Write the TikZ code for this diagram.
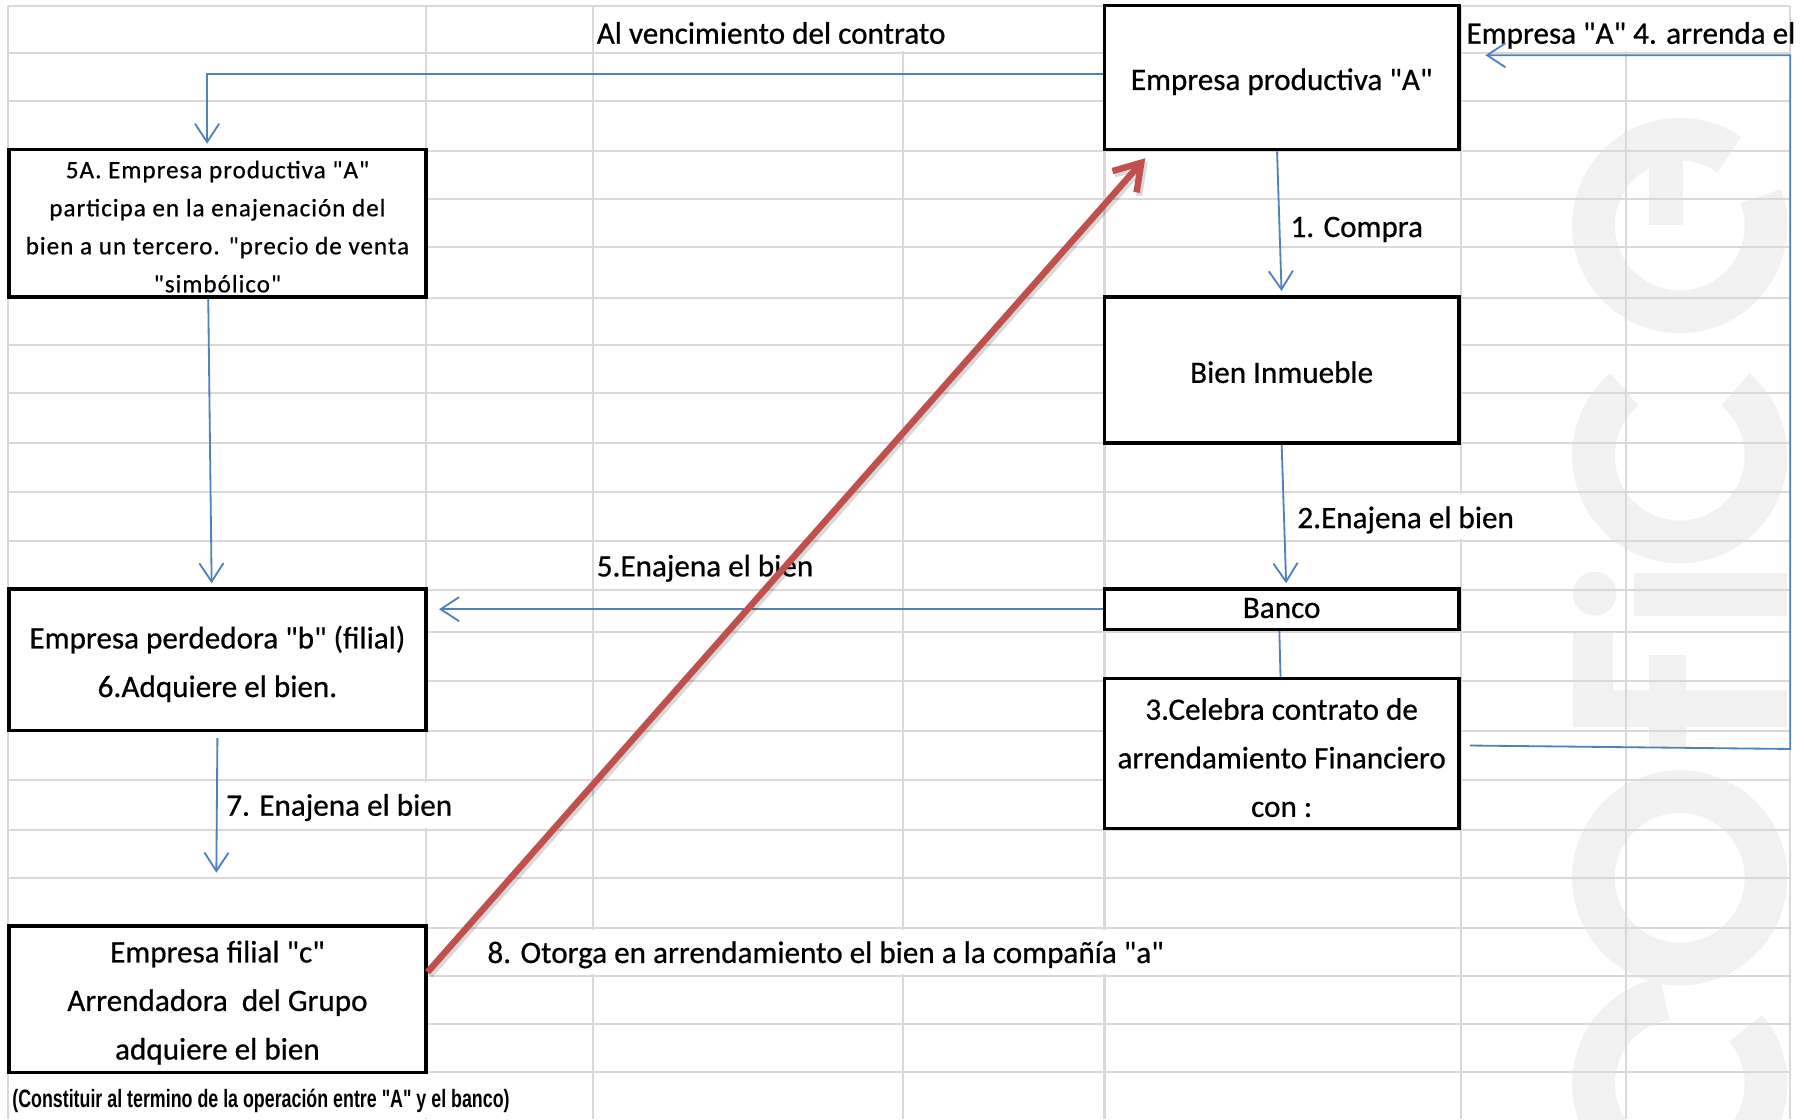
\documentclass[tikz,border=0pt]{standalone}
\usepackage{graphicx}
\usepackage{fontspec}
\newfontfamily\calfont{Carlito}[FakeBold=0.6]
\newfontfamily\spacedfont{Carlito}[LetterSpace=4,FakeBold=0.6]
\newfontfamily\notefont{Liberation Sans}
\usetikzlibrary{arrows.meta,calc}
\definecolor{gridc}{HTML}{D9D9D9}
\definecolor{conc}{HTML}{4F81BD}
\definecolor{redc}{HTML}{C0504D}
\definecolor{wmc}{HTML}{F1F1F1}
\begin{document}
\begin{tikzpicture}[x=0.01cm,y=-0.01cm,
  gridline/.style={draw=gridc, line width=0.5pt},
  box/.style={draw=black, line width=0.85pt, fill=white, rectangle, inner sep=0pt},
  rbox/.style={box, minimum width=3.08cm},
  lbox/.style={box, minimum width=3.62cm},
  boxtext/.style={inner sep=0pt, align=center, font=\calfont\fontsize{7.7}{12}\selectfont},
  con/.style={draw=conc, line width=0.45pt, -{Straight Barb[length=1.6mm,width=2.1mm]}, shorten >=1pt},
  conline/.style={draw=conc, line width=0.45pt},
  redarr/.style={draw=redc, line width=1.6pt, -{Straight Barb[length=2.2mm,width=2.8mm]}},
  lbl/.style={anchor=base west, inner sep=0pt, font=\calfont\fontsize{7.7}{12}\selectfont},
  wm/.style={draw=wmc, line width=0.37cm}
]
\fill[white] (0,0) rectangle (1568,973);
\useasboundingbox (0,0) rectangle (1568,973);

% watermark
\begin{scope}[wm]
  \draw (1460,196) ++(-20:75) arc[start angle=-20, end angle=305, radius=75];
  \draw[line width=0.3cm] (1448,110) -- (1448,196);
  \draw (1460,396) ++(-50:75) arc[start angle=-50, end angle=230, radius=75];
  \fill[wmc] (1386,516) circle[radius=19];
  \fill[wmc] (1420,498) rectangle (1553,535);
  \fill[wmc] (1385,600) rectangle (1553,632);
  \fill[wmc] (1367,549) rectangle (1402,632);
  \fill[wmc] (1433,569) rectangle (1465,650);
  \draw (1460,763) circle[radius=75];
  \draw (1460,942) ++(-40:75) arc[start angle=-40, end angle=260, radius=75];
\end{scope}

% spreadsheet grid
\foreach \y in {5,46,88,131,173,215,259,300,342,385,428,470,513,549,592,635,678,721,763,807,848,890,932}
  \draw[gridline] (7,\y) -- (1556,\y);
\foreach \x in {7,370,515,785,960,1270,1413,1556}
  \draw[gridline] (\x,5) -- (\x,973);
% gridlines hidden by overflowing cell text
\foreach \x/\a/\b in {785/5/46,1413/5/46,1270/428/470,370/678/721,515/807/848,785/807/848,960/807/848,370/932/973}
  \fill[white] (\x-3,\a+1.5) rectangle (\x+3,\b-1.5);

% boxes
\node[rbox, minimum height=1.25cm] (A) at (1114,67.5) {};
\node[rbox, minimum height=1.27cm] (bien) at (1114,321.5) {};
\node[rbox, minimum height=0.35cm] (banco) at (1114,529.5) {};
\node[rbox, minimum height=1.30cm] (celebra) at (1114,655) {};
\node[lbox, minimum height=1.28cm] (fivea) at (189,194) {};
\node[lbox, minimum height=1.23cm] (perd) at (189,573.5) {};
\node[lbox, minimum height=1.27cm] (filial) at (189,868.5) {};

% box texts
\node[boxtext] (At) at ([yshift=-0.035cm]A.center) {Empresa productiva "A"};
\node[boxtext] (bient) at ([yshift=-0.02cm]bien.center) {Bien Inmueble};
\node[boxtext] (bancot) at ([yshift=0.01cm]banco.center) {Banco};
\node[boxtext] (celebrat) at ([yshift=-0.035cm]celebra.center) {3.Celebra contrato de\\arrendamiento Financiero\\con :};
\node[boxtext, font=\spacedfont\fontsize{6.2}{9.4}\selectfont] (fivet) at ([yshift=-0.03cm]fivea.center)
  {5A. Empresa productiva "A"\\participa en la enajenación del\\bien a un tercero. "precio de venta\\"simbólico"};
\node[boxtext] (perdt) at ([yshift=-0.035cm]perd.center) {Empresa perdedora "b" (filial)\\6.Adquiere el bien.};
\node[boxtext] (filialt) at ([yshift=-0.03cm]filial.center) {Empresa filial "c"\\Arrendadora\ \ del Grupo\\adquiere el bien};

% labels
\node[lbl] (l0) at (518,38) {Al vencimiento del contrato};
\node[lbl] (l4) at (1274,38) {Empresa "A" 4. arrenda el};
\node[lbl] (l1) at (1121,206) {1. Compra};
\node[lbl] (l2) at (1127,459) {2.Enajena el bien};
\node[lbl] (l5) at (518,501) {5.Enajena el bien};
\node[lbl] (l7) at (196,709) {7. Enajena el bien};
\node[lbl] (l8) at (423,837) {8. Otorga en arrendamiento el bien a la compañía "a"};
\node[anchor=base west, inner sep=0pt, font=\notefont\bfseries\fontsize{6.2}{7}\selectfont] (note) at (10,963)
  {\resizebox{4.32cm}{\height}{(Constituir al termino de la operación entre "A" y el banco)}};

% connectors
\coordinate (e7) at (188,762);
\coordinate (r1) at (1556,651);
\coordinate (r2) at (1556,48);
\coordinate (r3) at ($(A.east |- r2)+(18,0)$);
\draw[con] ([yshift=0.03cm]A.west) -| ([xshift=-0.09cm]fivea.north);
\draw[con] ([xshift=-0.08cm]fivea.south) -- ([xshift=-0.05cm]perd.north);
\draw[con] ([xshift=-0.04cm]A.south) -- (bien.north);
\draw[con] (bien.south) -- ([xshift=0.04cm]banco.north);
\draw[conline] ([xshift=-0.02cm]banco.south) -- ([xshift=-0.01cm]celebra.north);
\draw[con, shorten >=0.1cm] (banco.west) -- (banco.west -| perd.east);
\draw[con, shorten <=0.05cm] (perd.south) -- (e7);
\draw[con] ([xshift=0.08cm,yshift=0.07cm]celebra.east) -- (r1) -- (r2) -- (r3);

% red arrow
\draw[redarr, draw=black, opacity=0.15, transform canvas={xshift=0.6pt,yshift=-0.8pt}]
  ([yshift=0.235cm]filial.east) -- ([xshift=0.37cm,yshift=-0.06cm]A.south west);
\draw[redarr] ([yshift=0.235cm]filial.east) -- ([xshift=0.37cm,yshift=-0.06cm]A.south west);
\end{tikzpicture}
\end{document}
